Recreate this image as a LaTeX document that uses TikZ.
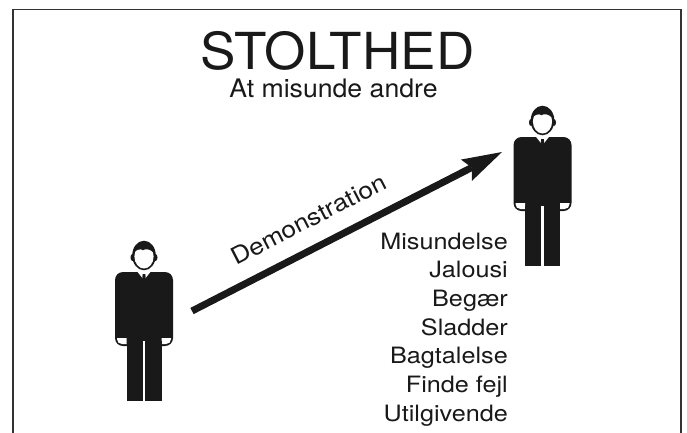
\documentclass[tikz,border=0pt]{standalone}
\usepackage{fontspec}
\setmainfont{TeX Gyre Heros}
\newfontfamily\wideA[FakeStretch=1.12]{TeX Gyre Heros}
\newfontfamily\wideB[FakeStretch=1.045]{TeX Gyre Heros}
\newfontfamily\wideC[FakeStretch=1.04]{TeX Gyre Heros}
\usetikzlibrary{arrows.meta}
\tikzset{
  frameline/.style={line width=1.5pt, draw=black!80},
  listitem/.style={anchor=base east, inner sep=0pt, text=black!90, font=\wideA\fontsize{22.5}{26}\selectfont},
  bigarrow/.style={line width=7pt, draw=black!90, -{Stealth[length=40pt,width=24pt,inset=6pt,line width=0pt]}},
  person/.pic={
    \fill[black!90, rounded corners=8pt] (-29,31) rectangle (29,105);
    \fill[white] (-8,29) -- (8,29) -- (0,39) -- cycle;
    \fill[black!90] (-1.4,33) -- (1.4,33) -- (2,43) -- (-2,43) -- cycle;
    \fill[white] (-17.5,97) -- (-17.5,103) -- (-22,103) .. controls (-25,103) and (-27,101) .. (-27,98) -- (-27,97) -- cycle;
    \fill[white] (17.5,97) -- (17.5,103) -- (22,103) .. controls (25,103) and (27,101) .. (27,98) -- (27,97) -- cycle;
    \fill[black!90] (-17.5,100) rectangle (-1.2,160);
    \fill[black!90] (1.2,100) rectangle (17.5,160);
    \fill[white] (-1.2,100) rectangle (1.2,106);
    \fill[black!90] (0,14.5) ellipse [x radius=11.8pt, y radius=14.8pt];
    \fill[black!90] (-11.5,16.5) ellipse [x radius=2pt, y radius=3.5pt];
    \fill[black!90] (11.5,16.5) ellipse [x radius=2pt, y radius=3.5pt];
    \begin{scope}
      \clip (0,15.5) ellipse [x radius=9.6pt, y radius=12pt];
      \fill[white] (-10,12) .. controls (-7,8) and (-3,7.5) .. (-1,9.5) .. controls (1,7.5) and (6,7.5) .. (10,12.5) -- (10,30) -- (-10,30) -- cycle;
    \end{scope}
  }
}
\begin{document}
\begin{tikzpicture}[x=1pt,y=-1pt]
\useasboundingbox (0,0) rectangle (687,432);
\fill[white] (0,0) rectangle (687,432);
\draw[frameline] (13,434) -- (13,9.5) -- (681,9.5) -- (681,434);

\node[anchor=base, inner sep=0pt, text=black!90, font=\wideC\fontsize{51}{60}\selectfont] (title) at (337.5,69) {STOLTHED};
\node[anchor=base, inner sep=0pt, text=black!90, font=\wideB\fontsize{25.5}{30}\selectfont] (sub) at (333.5,97) {At misunde andre};

\pic (p1) at (144,241) {person};
\pic (p2) at (542.5,106) {person};

\coordinate (a) at (192,311);
\coordinate (b) at (502,152);
\draw[bigarrow] (a) -- (b);
\node[anchor=base west, inner sep=0pt, rotate=27.15, text=black!90, font=\wideA\fontsize{23.5}{28}\selectfont] (demo) at (236,266) {Demonstration};

\node[listitem] (l1) at (508,249) {Misundelse};
\node[listitem] (l2) at (508,277.7) {Jalousi};
\node[listitem] (l3) at (508,306.4) {Begær};
\node[listitem] (l4) at (508,335.1) {Sladder};
\node[listitem] (l5) at (508,363.8) {Bagtalelse};
\node[listitem] (l6) at (508,392.5) {Finde fejl};
\node[listitem] (l7) at (508,421.2) {Utilgivende};
\end{tikzpicture}
\end{document}
